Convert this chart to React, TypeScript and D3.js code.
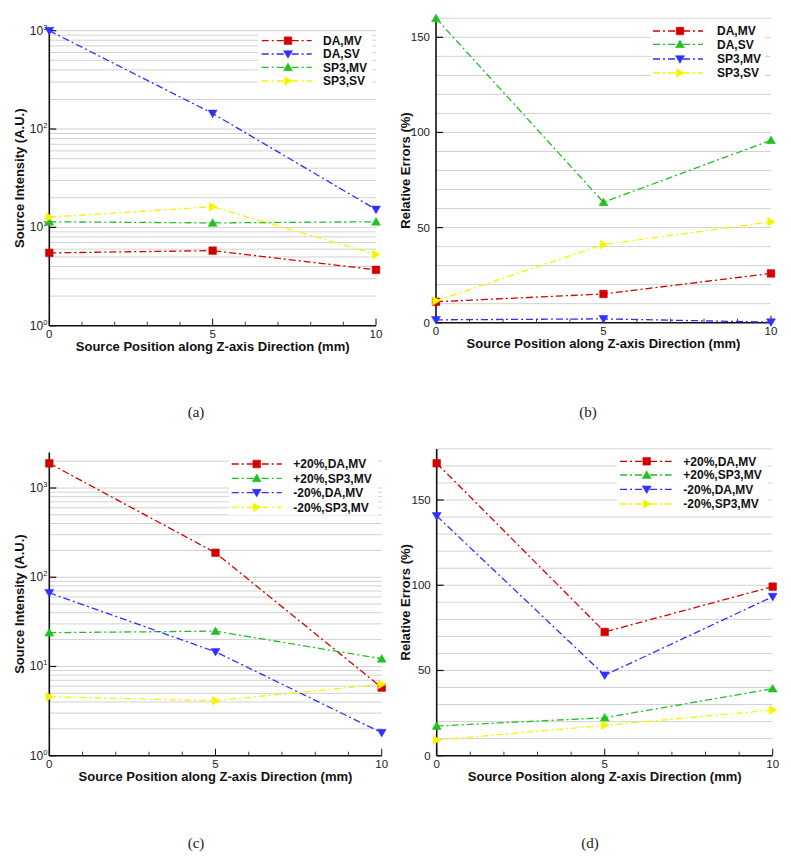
import React from "react";
import * as d3 from "d3";

const X = [0, 5, 10];
const X_TICKS = [0, 5, 10];

const A_LABELS = ["DA,MV", "DA,SV", "SP3,MV", "SP3,SV"];
const A_DA_MV = [5.5, 5.8, 3.7];
const A_DA_SV = [1000, 144, 15.2];
const A_SP3_MV = [11.4, 11.1, 11.4];
const A_SP3_SV = [12.7, 16.2, 5.3];

const B_LABELS = ["DA,MV", "DA,SV", "SP3,MV", "SP3,SV"];
const B_DA_MV = [11, 15.1, 25.9];
const B_DA_SV = [160, 63.3, 95.9];
const B_SP3_MV = [1.5, 2, 0.3];
const B_SP3_SV = [11.5, 41.1, 53];

const CD_LABELS = ["+20%,DA,MV", "+20%,SP3,MV", "-20%,DA,MV", "-20%,SP3,MV"];
const C_P20_DA_MV = [1890, 188, 5.8];
const C_P20_SP3_MV = [23.9, 24.9, 12.2];
const C_M20_DA_MV = [67, 14.6, 1.81];
const C_M20_SP3_MV = [4.58, 4.13, 6.3];

const D_P20_DA_MV = [171.6, 72.6, 99.2];
const D_P20_SP3_MV = [17.4, 22.3, 39.3];
const D_M20_DA_MV = [140.7, 47.2, 93.3];
const D_M20_SP3_MV = [9.2, 17.8, 26.8];

const LIN_TICKS_B = [0, 50, 100, 150];
const LIN_TICKS_D = [0, 50, 100, 150];

const RED = "#d40000";
const BLUE = "#2f2fff";
const GREEN = "#22c022";
const YELLOW = "#f5f500";

const SANS = "'Liberation Sans', Arial, sans-serif";
const SERIF = "'Liberation Serif', 'Times New Roman', serif";
const DASH = "7 3 2 3";

type Shape = "square" | "down" | "up" | "right";

function markerPath(shape: Shape, s: number) {
  const h = s / 2;
  switch (shape) {
    case "square":
      return `M${-h * 0.85},${-h * 0.85}H${h * 0.85}V${h * 0.85}H${-h * 0.85}Z`;
    case "down":
      return `M${-h},${-h * 0.75}L${h},${-h * 0.75}L0,${h * 0.95}Z`;
    case "up":
      return `M${-h},${h * 0.75}L${h},${h * 0.75}L0,${-h * 0.95}Z`;
    case "right":
      return `M${-h * 0.75},${-h}L${-h * 0.75},${h}L${h * 0.95},0Z`;
  }
}

interface Series {
  label: string;
  values: number[];
  color: string;
  shape: Shape;
}

interface PanelCfg {
  left: number;
  right: number;
  top: number;
  bottom: number;
  log: boolean;
  domain: [number, number];
  yTicks: number[];
  gridStep?: number;
  yTitle: string;
  yTitleX: number;
  series: Series[];
  legend: { x1: number; x2: number; mx: number; tx: number; rows: number[]; box: [number, number, number, number] };
  caption: string;
  captionX: number;
  captionY: number;
}

function Panel({ cfg }: { cfg: PanelCfg }) {
  const x = d3.scaleLinear().domain([0, 10]).range([cfg.left, cfg.right]);
  const y = cfg.log
    ? d3.scaleLog().domain(cfg.domain).range([cfg.bottom, cfg.top])
    : d3.scaleLinear().domain(cfg.domain).range([cfg.bottom, cfg.top]);

  let grid: number[] = [];
  if (cfg.log) {
    const [lo, hi] = cfg.domain;
    for (let e = Math.floor(Math.log10(lo)); e <= Math.ceil(Math.log10(hi)); e++) {
      for (let m = 1; m <= 9; m++) {
        const v = m * Math.pow(10, e);
        if (v > lo && v <= hi) grid.push(v);
      }
    }
  } else {
    grid = d3.range(cfg.gridStep!, cfg.domain[1] + 0.001, cfg.gridStep!);
  }
  const minorX = d3.range(1, 10).filter((v) => v % 5 !== 0);
  const line = d3
    .line<number>()
    .x((_, i) => x(X[i]))
    .y((v) => y(v));

  const midY = (cfg.top + cfg.bottom) / 2;
  const midX = (cfg.left + cfg.right) / 2;
  const L = cfg.legend;

  return (
    <g>
      {grid.map((v, i) => (
        <line key={"g" + i} x1={cfg.left} x2={cfg.right} y1={y(v)} y2={y(v)} stroke="#d2d2d2" strokeWidth={1} />
      ))}
      <rect x={L.box[0]} y={L.box[1]} width={L.box[2] - L.box[0]} height={L.box[3] - L.box[1]} fill="#fff" />
      {/* axes */}
      <line x1={cfg.left} x2={cfg.left} y1={cfg.top} y2={cfg.bottom} stroke="#111" strokeWidth={1.6} />
      <line x1={cfg.left} x2={cfg.right} y1={cfg.bottom} y2={cfg.bottom} stroke="#111" strokeWidth={1.6} />
      {X_TICKS.map((t) => (
        <g key={"xt" + t}>
          <line x1={x(t)} x2={x(t)} y1={cfg.bottom} y2={cfg.bottom - 7} stroke="#111" strokeWidth={1} />
          <text x={x(t)} y={cfg.bottom + 12} fontFamily={SANS} fontSize={11.5} textAnchor="middle" fill="#222">
            {t}
          </text>
        </g>
      ))}
      {minorX.map((t) => (
        <line key={"xm" + t} x1={x(t)} x2={x(t)} y1={cfg.bottom} y2={cfg.bottom - 4} stroke="#111" strokeWidth={0.8} />
      ))}
      {cfg.yTicks.map((t) => (
        <g key={"yt" + t}>
          <line x1={cfg.left} x2={cfg.left + 7} y1={y(t)} y2={y(t)} stroke="#111" strokeWidth={1.2} />
          {cfg.log ? (
            <text x={cfg.left - 2} y={y(t) + 4} fontFamily={SANS} fontSize={12} textAnchor="end" fill="#222">
              10
              <tspan dy={-5} fontSize={7.5}>
                {Math.round(Math.log10(t))}
              </tspan>
            </text>
          ) : (
            <text x={cfg.left - 6} y={y(t) + 4} fontFamily={SANS} fontSize={11.5} textAnchor="end" fill="#222">
              {t}
            </text>
          )}
        </g>
      ))}
      {/* titles */}
      <text
        x={midX}
        y={cfg.bottom + 25.5}
        fontFamily={SANS}
        fontWeight="bold"
        fontSize={13}
        textAnchor="middle"
        fill="#111"
      >
        Source Position along Z-axis Direction (mm)
      </text>
      <text
        transform={`translate(${cfg.yTitleX},${midY}) rotate(-90)`}
        fontFamily={SANS}
        fontWeight="bold"
        fontSize={13}
        textAnchor="middle"
        dominantBaseline="central"
        fill="#111"
      >
        {cfg.yTitle}
      </text>
      {/* series */}
      {cfg.series.map((s, si) => (
        <g key={"s" + si}>
          <path d={line(s.values) || ""} fill="none" stroke={s.color} strokeWidth={1.3} strokeDasharray={DASH} />
          {s.values.map((v, i) => (
            <path key={i} d={markerPath(s.shape, 9)} transform={`translate(${x(X[i])},${y(v)})`} fill={s.color} stroke={s.color} strokeWidth={0.5} />
          ))}
        </g>
      ))}
      {/* legend */}
      {cfg.series.map((s, si) => (
        <g key={"l" + si}>
          <line x1={L.x1} x2={L.x2} y1={L.rows[si]} y2={L.rows[si]} stroke={s.color} strokeWidth={1.3} strokeDasharray={DASH} />
          <path d={markerPath(s.shape, 9)} transform={`translate(${L.mx},${L.rows[si]})`} fill={s.color} stroke={s.color} strokeWidth={0.5} />
          <text x={L.tx} y={L.rows[si] + 4.3} fontFamily={SANS} fontWeight="bold" fontSize={12} fill="#111">
            {s.label}
          </text>
        </g>
      ))}
      <text x={cfg.captionX} y={cfg.captionY} fontFamily={SERIF} fontSize={15} textAnchor="middle" fill="#222">
        {cfg.caption}
      </text>
    </g>
  );
}

const panels: PanelCfg[] = [
  {
    left: 49.3,
    right: 376,
    top: 30.7,
    bottom: 325.7,
    log: true,
    domain: [1, 1000],
    yTicks: [1, 10, 100, 1000],
    yTitle: "Source Intensity (A.U.)",
    yTitleX: 19,
    series: [
      { label: A_LABELS[0], values: A_DA_MV, color: RED, shape: "square" },
      { label: A_LABELS[1], values: A_DA_SV, color: BLUE, shape: "down" },
      { label: A_LABELS[2], values: A_SP3_MV, color: GREEN, shape: "up" },
      { label: A_LABELS[3], values: A_SP3_SV, color: YELLOW, shape: "right" },
    ],
    legend: { x1: 261.7, x2: 311.7, mx: 288, tx: 323, rows: [40.7, 54, 67.3, 81], box: [258, 33, 372, 89] },
    caption: "(a)",
    captionX: 196,
    captionY: 417,
  },
  {
    left: 436,
    right: 771,
    top: 18.3,
    bottom: 322.7,
    log: false,
    domain: [0, 160],
    yTicks: LIN_TICKS_B,
    gridStep: 10,
    yTitle: "Relative Errors (%)",
    yTitleX: 405,
    series: [
      { label: B_LABELS[0], values: B_DA_MV, color: RED, shape: "square" },
      { label: B_LABELS[1], values: B_DA_SV, color: GREEN, shape: "up" },
      { label: B_LABELS[2], values: B_SP3_MV, color: BLUE, shape: "down" },
      { label: B_LABELS[3], values: B_SP3_SV, color: YELLOW, shape: "right" },
    ],
    legend: { x1: 653, x2: 703, mx: 680, tx: 717, rows: [31, 44.3, 59, 73], box: [651, 22, 765, 84] },
    caption: "(b)",
    captionX: 588,
    captionY: 417,
  },
  {
    left: 49.3,
    right: 381.7,
    top: 452.5,
    bottom: 755.7,
    log: true,
    domain: [1, 2500],
    yTicks: [1, 10, 100, 1000],
    yTitle: "Source Intensity (A.U.)",
    yTitleX: 19,
    series: [
      { label: CD_LABELS[0], values: C_P20_DA_MV, color: RED, shape: "square" },
      { label: CD_LABELS[1], values: C_P20_SP3_MV, color: GREEN, shape: "up" },
      { label: CD_LABELS[2], values: C_M20_DA_MV, color: BLUE, shape: "down" },
      { label: CD_LABELS[3], values: C_M20_SP3_MV, color: YELLOW, shape: "right" },
    ],
    legend: { x1: 231.7, x2: 281.7, mx: 256.7, tx: 293.3, rows: [464, 478.3, 492.7, 507.3], box: [229, 455, 378, 515] },
    caption: "(c)",
    captionX: 196,
    captionY: 848,
  },
  {
    left: 436.7,
    right: 772.7,
    top: 448.9,
    bottom: 755.7,
    log: false,
    domain: [0, 180],
    yTicks: LIN_TICKS_D,
    gridStep: 10,
    yTitle: "Relative Errors (%)",
    yTitleX: 405,
    series: [
      { label: CD_LABELS[0], values: D_P20_DA_MV, color: RED, shape: "square" },
      { label: CD_LABELS[1], values: D_P20_SP3_MV, color: GREEN, shape: "up" },
      { label: CD_LABELS[2], values: D_M20_DA_MV, color: BLUE, shape: "down" },
      { label: CD_LABELS[3], values: D_M20_SP3_MV, color: YELLOW, shape: "right" },
    ],
    legend: { x1: 620, x2: 671.7, mx: 646.7, tx: 683.3, rows: [461.3, 475, 489.3, 504], box: [617, 452, 768, 512] },
    caption: "(d)",
    captionX: 590,
    captionY: 848,
  },
];

export default function App() {
  return (
    <svg
      width={791}
      height={859}
      viewBox="0 0 791 859"
      style={{ position: "absolute", left: 0, top: 0, background: "#fff" }}
    >
      <rect x={0} y={0} width={791} height={859} fill="#fff" />
      {panels.map((p, i) => (
        <Panel key={i} cfg={p} />
      ))}
    </svg>
  );
}
